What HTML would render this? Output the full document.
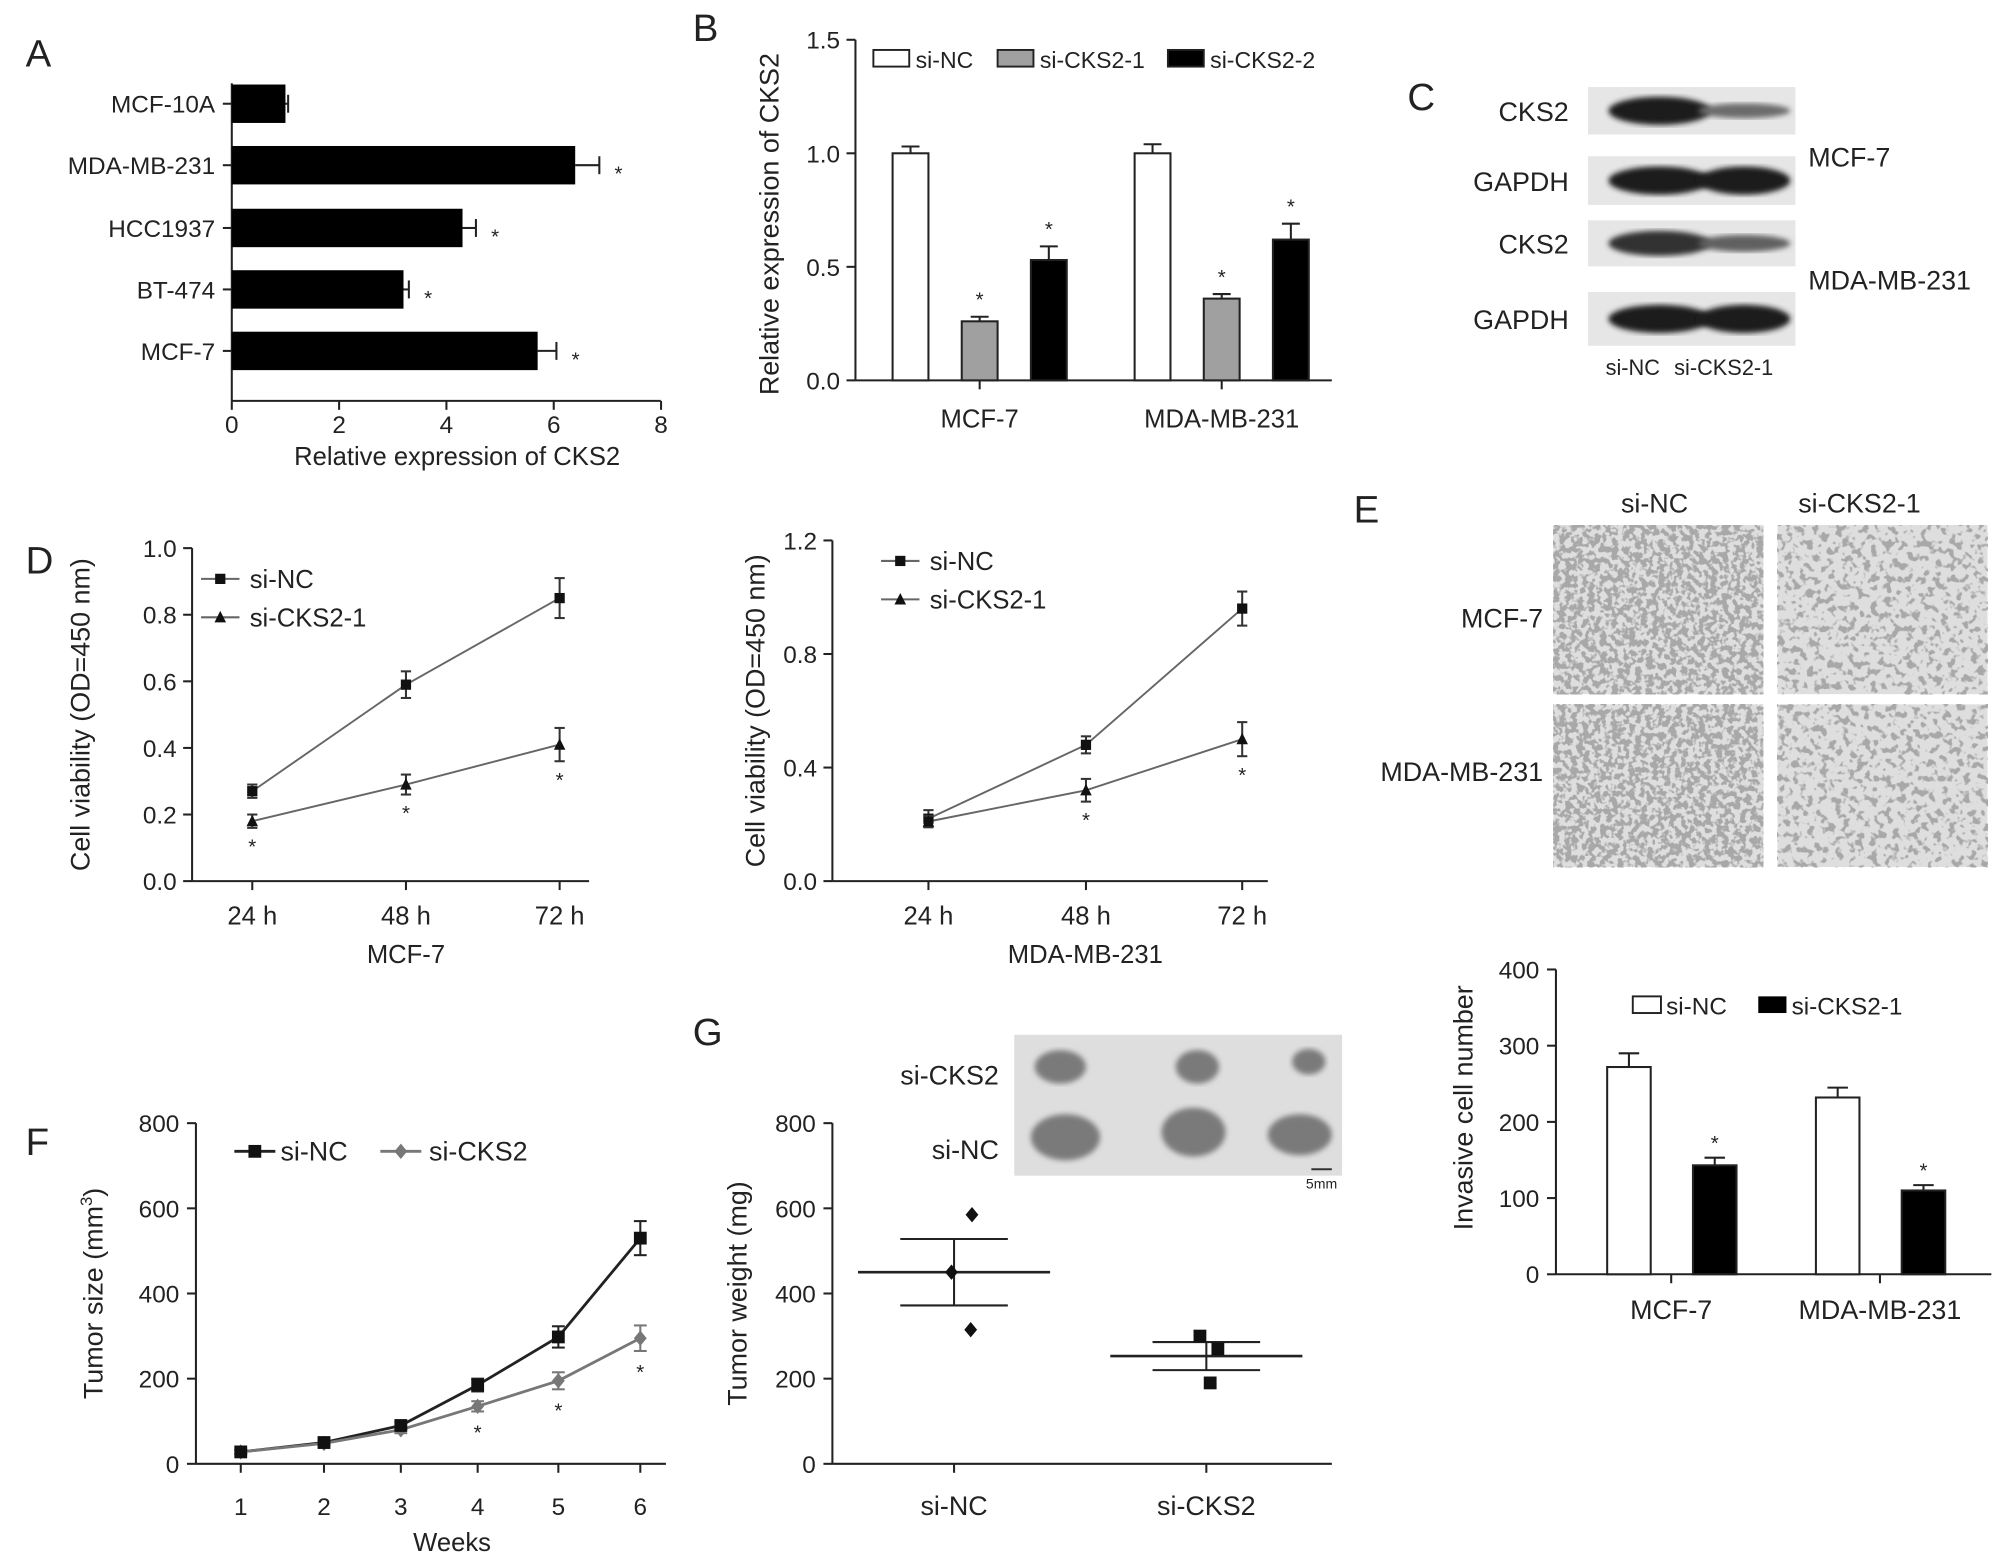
<!DOCTYPE html>
<html><head><meta charset="utf-8"><style>
html,body{margin:0;padding:0;background:#fff;}
svg{display:block;font-family:"Liberation Sans",Arial,sans-serif;}
</style></head>
<body>
<svg id="fig" width="2008" height="1565" viewBox="0 0 1568 1222" preserveAspectRatio="none" xmlns="http://www.w3.org/2000/svg">
<defs>
<filter id="cells1" x="0" y="0" width="1" height="1">
<feTurbulence type="fractalNoise" baseFrequency="0.22" numOctaves="2" seed="3"/>
<feColorMatrix type="matrix" values="0 0 0 0 0.38 0 0 0 0 0.38 0 0 0 0 0.38 -9 0 0 0 5.0"/>
</filter>
<filter id="cells2" x="0" y="0" width="1" height="1">
<feTurbulence type="fractalNoise" baseFrequency="0.18" numOctaves="2" seed="7"/>
<feColorMatrix type="matrix" values="0 0 0 0 0.38 0 0 0 0 0.38 0 0 0 0 0.38 -9 0 0 0 4.3"/>
</filter>
<filter id="blur1"><feGaussianBlur stdDeviation="2"/></filter>
</defs>
</svg>
<script>
// ---- data ----
const aCats=["MCF-10A","MDA-MB-231","HCC1937","BT-474","MCF-7"];
const aVals=[1.0,6.4,4.3,3.2,5.7];
const aErr=[0.05,0.45,0.25,0.1,0.35];
const aTicks=[0,2,4,6,8];
const bGroups=["MCF-7","MDA-MB-231"];
const bNC=[1.0,1.0],bNCe=[0.03,0.04];
const bS1=[0.26,0.36],bS1e=[0.02,0.02];
const bS2=[0.53,0.62],bS2e=[0.06,0.07];
const bTicks=["0.0","0.5","1.0","1.5"];
const dTimes=["24 h","48 h","72 h"];
const d1NC=[0.27,0.59,0.85],d1NCe=[0.02,0.04,0.06];
const d1S=[0.18,0.29,0.41],d1Se=[0.02,0.03,0.05];
const d1Ticks=["0.0","0.2","0.4","0.6","0.8","1.0"];
const d2NC=[0.22,0.48,0.96],d2NCe=[0.03,0.03,0.06];
const d2S=[0.21,0.32,0.50],d2Se=[0.02,0.04,0.06];
const d2Ticks=["0.0","0.4","0.8","1.2"];
const eGroups=["MCF-7","MDA-MB-231"];
const eNC=[272,232],eNCe=[18,13];
const eS=[143,110],eSe=[10,7];
const eTicks=[0,100,200,300,400];
const fWeeks=[1,2,3,4,5,6];
const fNC=[28,50,90,185,298,530],fNCe=[5,5,8,15,25,40];
const fS=[28,48,80,135,195,295],fSe=[5,5,8,12,20,30];
const fTicks=[0,200,400,600,800];
const gCats=["si-NC","si-CKS2"];
const gNCpts=[585,450,315];
const gSpts=[300,270,190];
const gMean=[450,253],gSem=[78,33];
const gTicks=[0,200,400,600,800];

const svg=document.getElementById('fig');
const NS="http://www.w3.org/2000/svg";
function nm(el,name,inter){
  
  
  return el;
}
function mk(tag,attrs,parent){const e=document.createElementNS(NS,tag);for(const k in attrs)e.setAttribute(k,attrs[k]);(parent||svg).appendChild(e);return e;}
function txt(s,x,y,size,anchor,parent,extra){const e=mk('text',Object.assign({x:x,y:y,'font-size':size,'text-anchor':anchor||'middle',fill:'#222'},extra||{}),parent);e.textContent=s;return e;}
function line(x1,y1,x2,y2,parent,col,w){return mk('line',{x1:x1,y1:y1,x2:x2,y2:y2,stroke:col||'#222','stroke-width':w||1.6},parent);}
function grp(name){const g=mk('g',{});nm(g,name);return g;}
function vErr(x,y1,y2,cap,g,col){line(x,y1,x,y2,g,col);line(x-cap,y1,x+cap,y1,g,col);line(x-cap,y2,x+cap,y2,g,col);}
function star(x,y,g){const t=txt('*',x,y,16,'middle',g);nm(t,'significance-star');}
function ylab(s,x,cy,g,size){const t=txt(s,x,cy,size||21,'middle',g,{transform:`rotate(-90 ${x} ${cy})`});nm(t,'y-axis-title');}
function panelLetter(s,x,y){const t=txt(s,x,y,30,'start');nm(t,'panel-label-'+s.toLowerCase());}

// ---- Panel A ----
(function(){
const g=grp('panel-a-chart');
panelLetter('A',20,52);
const x=v=>181+v*41.9; const yc=[81,129,178,226,274];
line(181,65,181,313,g);line(181,313,516,313,g);
aTicks.forEach(t=>{line(x(t),313,x(t),320,g);const e=txt(String(t),x(t),338,19,'middle',g);nm(e,'x-tick-label');});
aCats.forEach((c,i)=>{line(174,yc[i],181,yc[i],g);const l=txt(c,168,yc[i]+7,19,'end',g);nm(l,'y-category-label');
 const b=mk('rect',{x:181,y:yc[i]-15,width:x(aVals[i])-181,height:30,fill:'#000'},g);nm(b,'bar-'+c.toLowerCase());
 const xe=x(aVals[i]+aErr[i]);line(x(aVals[i]),yc[i],xe,yc[i],g);line(xe,yc[i]-7,xe,yc[i]+7,g);
 if(i>0)star(xe+15,yc[i]+12,g);});
const xl=txt('Relative expression of CKS2',357,363,20,'middle',g);nm(xl,'x-axis-title');
})();

// ---- Panel B ----
(function(){
const g=grp('panel-b-chart');
panelLetter('B',541,32);
const ax=668;
const y=v=>297-v*177.3;
line(ax,31,ax,297,g);line(ax,297,1040,297,g);
bTicks.forEach(t=>{const yy=y(+t);line(ax-7,yy,ax,yy,g);const e=txt(t,ax-12,yy+7,19,'end',g);nm(e,'y-tick-label');});
const gx=[765,954];
const series=[[bNC,bNCe,'#fff',-54,'si-NC'],[bS1,bS1e,'#a0a0a0',0,'si-CKS2-1'],[bS2,bS2e,'#000',54,'si-CKS2-2']];
bGroups.forEach((gn,i)=>{line(gx[i],297,gx[i],304,g);const l=txt(gn,gx[i],334,20,'middle',g);nm(l,'x-category-label');
 series.forEach(s=>{const cx=gx[i]+s[3];const v=s[0][i];const b=mk('rect',{x:cx-14,y:y(v),width:28,height:297-y(v),fill:s[2],stroke:'#222','stroke-width':1.6},g);nm(b,'bar-'+gn.toLowerCase()+'-'+s[4]);
 const top=y(v+s[1][i]);line(cx,y(v),cx,top,g);line(cx-7,top,cx+7,top,g);
 if(s[4]!=='si-NC')star(cx,top-8,g);});});
const lx=[[682,'#fff','si-NC'],[779,'#a0a0a0','si-CKS2-1'],[912,'#000','si-CKS2-2']];
lx.forEach(l=>{const lg=mk('g',{},g);nm(lg,'legend-entry');mk('rect',{x:l[0],y:39,width:28,height:13,fill:l[1],stroke:'#222','stroke-width':1.5},lg);txt(l[2],l[0]+33,53,18,'start',lg);});
ylab('Relative expression of CKS2',608,175,g);
})();

// ---- Panel C ----
(function(){
const g=grp('panel-c-western-blot');
panelLetter('C',1099,86);
const rows=[[68,105,'CKS2',[1,0.35]],[122,160,'GAPDH',[1,1]],[172,208,'CKS2',[0.85,0.45]],[228,270,'GAPDH',[1,1]]];
rows.forEach((r,i)=>{const bg=mk('rect',{x:1240,y:r[0],width:162,height:r[1]-r[0],fill:'#e6e6e6'},g);nm(bg,'blot-strip');
 const cy=(r[0]+r[1])/2;
 [1296,1362].forEach((bx,j)=>{const k=r[3][j];const c=Math.round(30+(1-k)*120);const e=mk('ellipse',{cx:bx,cy:cy,rx:j==0?40:36,ry:8*k+3,fill:`rgb(${c},${c},${c})`,filter:'url(#blur1)'},g);nm(e,'blot-band');});
 const l=txt(r[2],1225,cy+8,21,'end',g);nm(l,'blot-row-label');});
const m1=txt('MCF-7',1412,130,21,'start',g);nm(m1,'cell-line-label');
const m2=txt('MDA-MB-231',1412,226,21,'start',g);nm(m2,'cell-line-label');
const s1=txt('si-NC',1275,293,17,'middle',g);nm(s1,'lane-label');
const s2=txt('si-CKS2-1',1346,293,17,'middle',g);nm(s2,'lane-label');
})();

// ---- Panel D (line charts) ----
function lineChart(name,ax,xe,y0,ytop,maxV,ticks,xs,nc,nce,s,se,stars,xlabel,legX,legY,ylx){
const g=grp(name);
const y=v=>y0-v*(y0-ytop)/maxV;
line(ax,ytop,ax,y0,g);line(ax,y0,xe,y0,g);
ticks.forEach(t=>{const yy=y(+t);line(ax-7,yy,ax,yy,g);const e=txt(t,ax-12,yy+7,19,'end',g);nm(e,'y-tick-label');});
dTimes.forEach((t,i)=>{line(xs[i],y0,xs[i],y0+7,g);const e=txt(t,xs[i],y0+34,20,'middle',g);nm(e,'x-tick-label');});
const p1=mk('polyline',{points:xs.map((x,i)=>x+','+y(nc[i])).join(' '),fill:'none',stroke:'#666','stroke-width':1.5},g);nm(p1,'line-si-nc');
const p2=mk('polyline',{points:xs.map((x,i)=>x+','+y(s[i])).join(' '),fill:'none',stroke:'#666','stroke-width':1.5},g);nm(p2,'line-si-cks2-1');
xs.forEach((x,i)=>{vErr(x,y(nc[i]-nce[i]),y(nc[i]+nce[i]),4,g,'#333');const m=mk('rect',{x:x-4,y:y(nc[i])-4,width:8,height:8,fill:'#111'},g);nm(m,'point-si-nc');
 vErr(x,y(s[i]-se[i]),y(s[i]+se[i]),4,g,'#333');const yy=y(s[i]);const m2=mk('polygon',{points:`${x},${yy-5} ${x-4.5},${yy+4} ${x+4.5},${yy+4}`,fill:'#111'},g);nm(m2,'point-si-cks2-1');
 if(stars[i])star(x,y(s[i]-se[i])+20,g);});
const l1=mk('g',{},g);nm(l1,'legend-entry');line(legX,legY,legX+30,legY,l1,'#666');mk('rect',{x:legX+11,y:legY-4,width:8,height:8,fill:'#111'},l1);txt('si-NC',legX+38,legY+7,20,'start',l1);
const l2=mk('g',{},g);nm(l2,'legend-entry');line(legX,legY+30,legX+30,legY+30,l2,'#666');mk('polygon',{points:`${legX+15},${legY+25} ${legX+10.5},${legY+34} ${legX+19.5},${legY+34}`,fill:'#111'},l2);txt('si-CKS2-1',legX+38,legY+37,20,'start',l2);
const xl=txt(xlabel,(xs[0]+xs[2])/2,y0+64,20,'middle',g);nm(xl,'x-axis-title');
ylab('Cell viability (OD=450 nm)',ylx,(y0+ytop)/2,g);
}
panelLetter('D',20,448);
lineChart('panel-d-mcf7-chart',150,460,688,428,1.0,d1Ticks,[197,317,437],d1NC,d1NCe,d1S,d1Se,[1,1,1],'MCF-7',157,452,70);
lineChart('panel-d-mda-chart',650,990,688,422,1.2,d2Ticks,[725,848,970],d2NC,d2NCe,d2S,d2Se,[0,1,1],'MDA-MB-231',688,438,597);

// ---- Panel E images ----
(function(){
const g=grp('panel-e-invasion-images');
panelLetter('E',1057,408);
txt('si-NC',1292,400,21,'middle',g);txt('si-CKS2-1',1452,400,21,'middle',g);
txt('MCF-7',1205,490,21,'end',g);txt('MDA-MB-231',1205,610,21,'end',g);
const imgs=[[1213,410,'cells1'],[1388,410,'cells2'],[1213,550,'cells1'],[1388,550,'cells2']];
imgs.forEach((m,i)=>{const h=i<2?132:127;const r=mk('rect',{x:m[0],y:m[1],width:164,height:h,fill:'#dedede'},g);nm(r,'micrograph');
 mk('rect',{x:m[0],y:m[1],width:164,height:h,fill:'#fff',filter:`url(#${m[2]})`,opacity:0.95},g);});
})();

// ---- Panel E bar chart ----
(function(){
const g=grp('panel-e-invasion-chart');
const y=v=>995-v*0.595;
line(1215,757,1215,995,g);line(1215,995,1555,995,g);
eTicks.forEach(t=>{line(1208,y(t),1215,y(t),g);const e=txt(String(t),1202,y(t)+7,19,'end',g);nm(e,'y-tick-label');});
const gx=[1305,1468];
eGroups.forEach((gn,i)=>{line(gx[i],995,gx[i],1002,g);const l=txt(gn,gx[i],1030,21,'middle',g);nm(l,'x-category-label');
 [[eNC,eNCe,'#fff',-33,'si-nc'],[eS,eSe,'#000',34,'si-cks2-1']].forEach(s=>{const cx=gx[i]+s[3];const v=s[0][i];const b=mk('rect',{x:cx-17,y:y(v),width:34,height:995-y(v),fill:s[2],stroke:'#222','stroke-width':1.6},g);nm(b,'bar-'+gn.toLowerCase()+'-'+s[4]);
 const top=y(v+s[1][i]);line(cx,y(v),cx,top,g);line(cx-8,top,cx+8,top,g);if(s[4]!=='si-nc')star(cx,top-6,g);});});
const l1=mk('g',{},g);nm(l1,'legend-entry');mk('rect',{x:1275,y:778,width:22,height:13,fill:'#fff',stroke:'#222','stroke-width':1.5},l1);txt('si-NC',1301,792,19,'start',l1);
const l2=mk('g',{},g);nm(l2,'legend-entry');mk('rect',{x:1373,y:778,width:22,height:13,fill:'#000'},l2);txt('si-CKS2-1',1399,792,19,'start',l2);
ylab('Invasive cell number',1150,865,g);
})();

// ---- Panel F ----
(function(){
const g=grp('panel-f-tumor-growth');
panelLetter('F',20,902);
const xs=[188,253,313,373,436,500];const y=v=>1143-v*0.3325;
line(153,877,153,1143,g);line(153,1143,520,1143,g);
fTicks.forEach(t=>{line(146,y(t),153,y(t),g);const e=txt(String(t),140,y(t)+7,19,'end',g);nm(e,'y-tick-label');});
fWeeks.forEach((w,i)=>{line(xs[i],1143,xs[i],1150,g);const e=txt(String(w),xs[i],1183,19,'middle',g);nm(e,'x-tick-label');});
const p1=mk('polyline',{points:xs.map((x,i)=>x+','+y(fNC[i])).join(' '),fill:'none',stroke:'#222','stroke-width':2.2},g);nm(p1,'line-si-nc');
const p2=mk('polyline',{points:xs.map((x,i)=>x+','+y(fS[i])).join(' '),fill:'none',stroke:'#777','stroke-width':2.2},g);nm(p2,'line-si-cks2');
xs.forEach((x,i)=>{vErr(x,y(fS[i]-fSe[i]),y(fS[i]+fSe[i]),5,g,'#777');const yy=y(fS[i]);const d=mk('polygon',{points:`${x},${yy-6} ${x+5},${yy} ${x},${yy+6} ${x-5},${yy}`,fill:'#777'},g);nm(d,'point-si-cks2');
 vErr(x,y(fNC[i]-fNCe[i]),y(fNC[i]+fNCe[i]),5,g,'#222');const m=mk('rect',{x:x-5,y:y(fNC[i])-5,width:10,height:10,fill:'#111'},g);nm(m,'point-si-nc');
 if(i>=3)star(x,y(fS[i]-fSe[i])+22,g);});
const l1=mk('g',{},g);nm(l1,'legend-entry');line(183,899,215,899,l1,'#222',2.2);mk('rect',{x:194,y:894,width:10,height:10,fill:'#111'},l1);txt('si-NC',219,906,21,'start',l1);
const l2=mk('g',{},g);nm(l2,'legend-entry');line(297,899,329,899,l2,'#777',2.2);mk('polygon',{points:'313,893 318,899 313,905 308,899',fill:'#777'},l2);txt('si-CKS2',335,906,21,'start',l2);
const xl=txt('Weeks',353,1211,20,'middle',g);nm(xl,'x-axis-title');
const yl=txt('',80,1010,21,'middle',g,{transform:'rotate(-90 80 1010)'});nm(yl,'y-axis-title');
yl.textContent='Tumor size (mm';const sup=mk('tspan',{'font-size':13,dy:-8},yl);sup.textContent='3';const cl=mk('tspan',{dy:8},yl);cl.textContent=')';
})();

// ---- Panel G ----
(function(){
const g=grp('panel-g-tumor-weight');
panelLetter('G',541,816);
const y=v=>1143-v*0.3325;const xc=[745,942];
line(650,877,650,1143,g);line(650,1143,1040,1143,g);
gTicks.forEach(t=>{line(643,y(t),650,y(t),g);const e=txt(String(t),637,y(t)+7,19,'end',g);nm(e,'y-tick-label');});
gCats.forEach((c,i)=>{line(xc[i],1143,xc[i],1150,g);const e=txt(c,xc[i],1183,21,'middle',g);nm(e,'x-category-label');
 line(xc[i]-75,y(gMean[i]),xc[i]+75,y(gMean[i]),g,'#222',2);vErr(xc[i],y(gMean[i]-gSem[i]),y(gMean[i]+gSem[i]),42,g,'#222');});
const nx=[xc[0]+14,xc[0]-2,xc[0]+13];
gNCpts.forEach((v,i)=>{const x=nx[i];const yy=y(v);const d=mk('polygon',{points:`${x},${yy-6} ${x+5},${yy} ${x},${yy+6} ${x-5},${yy}`,fill:'#111'},g);nm(d,'point-si-nc');});
const sx=[xc[1]-5,xc[1]+9,xc[1]+3];
gSpts.forEach((v,i)=>{const m=mk('rect',{x:sx[i]-5,y:y(v)-5,width:10,height:10,fill:'#111'},g);nm(m,'point-si-cks2');});
ylab('Tumor weight (mg)',583,1010,g);
const ph=mk('g',{},g);nm(ph,'tumor-photo');
mk('rect',{x:792,y:808,width:256,height:110,fill:'#dedede'},ph);
[[828,833,20,13],[935,833,17,13],[1022,829,13,10],[832,888,27,18],[932,884,25,19],[1015,886,25,16]].forEach(t=>{const e=mk('ellipse',{cx:t[0],cy:t[1],rx:t[2],ry:t[3],fill:'#7a7a7a',filter:'url(#blur1)'},ph);nm(e,'tumor');});
line(1024,913,1040,913,ph,'#333',1.5);txt('5mm',1032,928,11,'middle',ph);
txt('si-CKS2',780,847,21,'end',g);txt('si-NC',780,905,21,'end',g);
})();
</script>
</body></html>
